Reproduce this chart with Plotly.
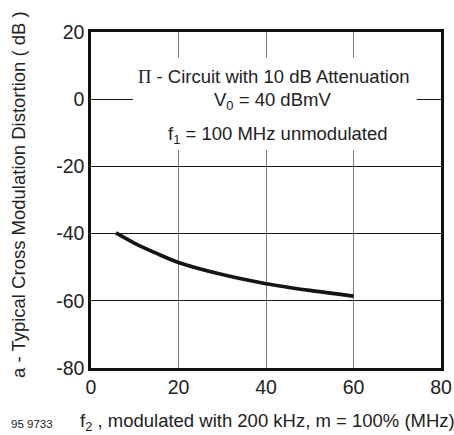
import plotly.graph_objects as go

freq_mhz = [5.7, 10, 15, 20, 30, 40, 50, 60]
distortion_db = [-39.8, -42.9, -45.9, -48.6, -52.2, -54.9, -56.9, -58.6]
x_ticks = [0, 20, 40, 60, 80]
y_ticks = [-80, -60, -40, -20, 0, 20]
y_tick_text = ["-80", "-60", "-40", "-20", "0", "20"]

FONT = "Liberation Sans, Arial, sans-serif"
W, H = 454, 435
ML, MR, MT, MB = 91, 13, 32, 67
plot_w, plot_h = W - ML - MR, H - MT - MB


def py(px):
    return 1 - (px - MT) / plot_h


def pxx(px):
    return (px - ML) / plot_w


fig = go.Figure()
fig.add_trace(go.Scatter(
    x=freq_mhz, y=distortion_db, mode="lines",
    line=dict(color="#151515", width=3.6, shape="spline", smoothing=0.8),
    showlegend=False, hoverinfo="skip",
))

# white box behind the text block (interrupts grid lines)
fig.add_shape(type="rect", xref="x", yref="y", x0=9.6, x1=74.5, y0=-15.1, y1=12.3,
              fillcolor="white", line=dict(width=0), layer="between")


def label(x, y, text, size=18.5, angle=0):
    fig.add_annotation(x=pxx(x), y=py(y), xref="paper", yref="paper",
                       xanchor="center", yanchor="middle", textangle=angle,
                       text=text, showarrow=False,
                       font=dict(family=FONT, size=size, color="#222"))


label(273, 76, '<span style="font-family:Liberation Serif, serif">Π</span> - Circuit with 10 dB Attenuation')
label(272, 101, "V<sub>0</sub> = 40 dBmV")
label(278, 135, "f<sub>1</sub> = 100 MHz unmodulated")
label(267, 422, "f<sub>2</sub> , modulated with 200 kHz, m = 100% (MHz)")
label(32, 424, "95 9733", size=11.5)
label(18, 195, "a - Typical Cross Modulation Distortion ( dB )", angle=-90)

fig.update_layout(
    width=W, height=H,
    margin=dict(l=ML, r=MR, t=MT, b=MB, autoexpand=False),
    paper_bgcolor="white", plot_bgcolor="white",
    font=dict(family=FONT, size=19, color="#222"),
    xaxis=dict(range=[0, 80], tickvals=x_ticks, showgrid=True, gridcolor="#7a7a7a", gridwidth=1.2,
               showline=True, linecolor="#111", linewidth=2.5, mirror=True, zeroline=False,
               ticks="", tickfont=dict(size=19.5), fixedrange=True, automargin=False),
    yaxis=dict(range=[-80, 20], tickvals=y_ticks, ticktext=y_tick_text, showgrid=True,
               gridcolor="#1a1a1a", gridwidth=1.2,
               showline=True, linecolor="#111", linewidth=2.5, mirror=True, zeroline=False,
               ticks="", tickfont=dict(size=19.5), fixedrange=True, automargin=False),
)

fig.write_html("out.html", config={"displayModeBar": False},
               post_script="document.body.style.margin='0';document.body.style.padding='0';")
